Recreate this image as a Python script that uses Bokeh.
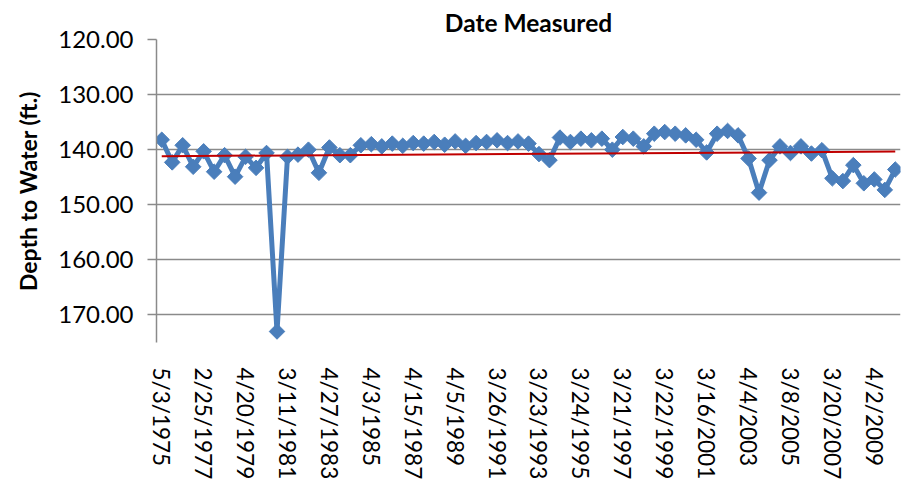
import numpy as np
from bokeh.plotting import figure
from bokeh.models import Range1d, FixedTicker, NumeralTickFormatter
from bokeh.embed import file_html
from bokeh.resources import INLINE

# Depth to water (ft.) for each measurement, in order of date measured
depth_ft = [
    138.2, 142.3, 139.2, 143.1, 140.3, 144.0, 141.0, 144.9, 141.3, 143.3,
    140.6, 173.0, 141.3, 140.9, 140.0, 144.2, 139.6, 141.0, 141.0, 139.2,
    139.0, 139.4, 138.9, 139.3, 138.8, 138.9, 138.6, 139.1, 138.5, 139.3,
    138.8, 138.6, 138.3, 138.8, 138.5, 138.9, 140.8, 141.9, 137.8, 138.6,
    138.0, 138.3, 138.0, 140.0, 137.7, 138.0, 139.4, 137.1, 136.8, 137.1,
    137.4, 138.2, 140.5, 137.1, 136.6, 137.4, 141.6, 147.8, 141.9, 139.4,
    140.6, 139.4, 140.7, 140.1, 145.2, 145.7, 142.8, 146.1, 145.4, 147.3,
    143.6,
]

# Category axis labels shown (every 4th measurement)
label_index = [0, 4, 8, 12, 16, 20, 24, 28, 32, 36, 40, 44, 48, 52, 56, 60, 64, 68]
label_dates = [
    "5/3/1975", "2/25/1977", "4/20/1979", "3/11/1981", "4/27/1983", "4/3/1985",
    "4/15/1987", "4/5/1989", "3/26/1991", "3/23/1993", "3/24/1995", "3/21/1997",
    "3/22/1999", "3/16/2001", "4/4/2003", "3/8/2005", "3/20/2007", "4/2/2009",
]

y_ticks = [120, 130, 140, 150, 160, 170]

n = len(depth_ft)
xs = np.arange(n)
slope, intercept = np.polyfit(xs, np.array(depth_ft), 1)
trend_x = [0, n - 1]
trend_y = [intercept, intercept + slope * (n - 1)]

FONT = "Lato"
GRID = "#8a8a8a"
BLUE = "#4a7ebb"

p = figure(
    width=903, height=482,
    x_range=Range1d(-0.5, n - 0.5),
    y_range=Range1d(175, 120),
    output_backend="svg", toolbar_location=None,
    min_border_left=156, min_border_right=3,
    min_border_top=39, min_border_bottom=140,
    title="Date Measured",
)
p.outline_line_color = None
p.background_fill_color = "white"
p.border_fill_color = "white"

p.title.align = "center"
p.title.vertical_align = "middle"
p.title.text_font = FONT
p.title.text_font_size = "24.5px"
p.title.text_font_style = "bold"
p.title.text_color = "black"
p.title.standoff = 4

# y axis
yax = p.yaxis[0]
yax.ticker = FixedTicker(ticks=y_ticks)
yax.formatter = NumeralTickFormatter(format="0.00")
yax.axis_line_color = GRID
yax.axis_line_width = 1.5
yax.major_tick_line_color = GRID
yax.major_tick_line_width = 1.5
yax.major_tick_in = 0
yax.major_tick_out = 9
yax.minor_tick_line_color = None
yax.major_label_standoff = 14
yax.major_label_text_font = FONT
yax.major_label_text_font_size = "24px"
yax.major_label_text_color = "black"
yax.axis_label = "Depth to Water (ft.)"
yax.axis_label_text_font = FONT
yax.axis_label_text_font_size = "23px"
yax.axis_label_text_font_style = "bold"
yax.axis_label_text_color = "black"
yax.axis_label_standoff = 13

# x axis
xax = p.xaxis[0]
xax.ticker = FixedTicker(ticks=label_index)
xax.major_label_overrides = {i: d for i, d in zip(label_index, label_dates)}
xax.major_label_orientation = "vertical"
xax.axis_line_color = None
xax.major_tick_line_color = None
xax.minor_tick_line_color = None
xax.major_tick_in = 0
xax.major_tick_out = 0
xax.major_label_standoff = 25
xax.major_label_text_font = FONT
xax.major_label_text_font_size = "22.5px"
xax.major_label_text_color = "black"

p.xgrid.grid_line_color = None
p.ygrid.ticker = FixedTicker(ticks=y_ticks)
p.ygrid.grid_line_color = GRID
p.ygrid.grid_line_width = 1.5

p.line(xs, depth_ft, line_color=BLUE, line_width=5, line_join="round")
p.scatter(xs, depth_ft, marker="square", angle=np.pi / 4, size=11,
          fill_color=BLUE, line_color=BLUE)
p.line(trend_x, trend_y, line_color="#c00000", line_width=2)

open("out.html", "w").write(file_html(p, INLINE))
